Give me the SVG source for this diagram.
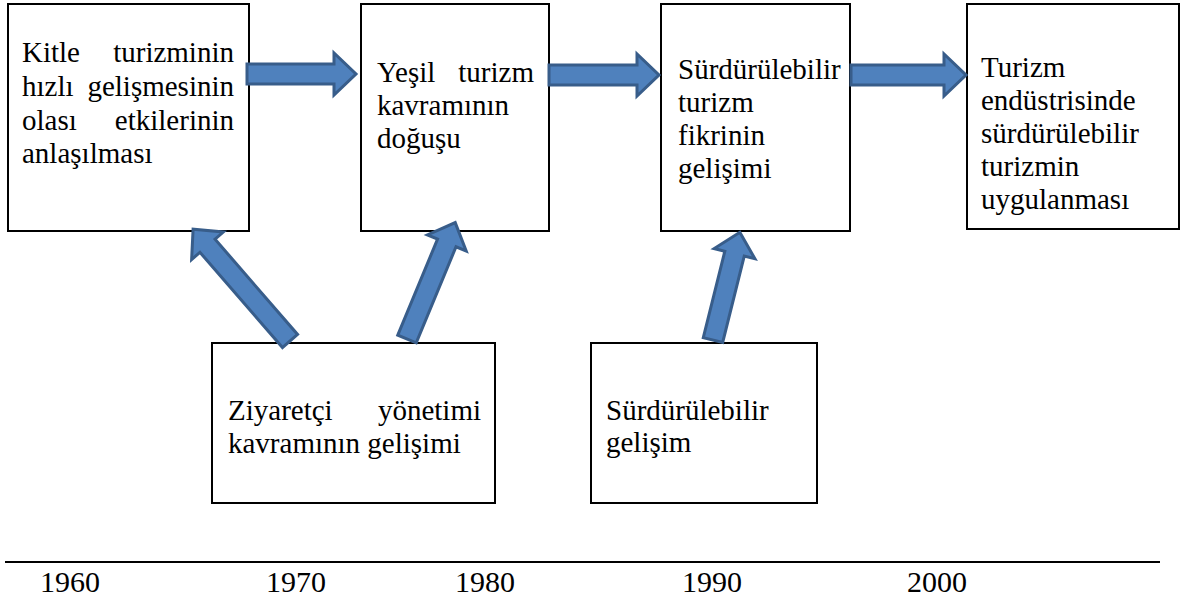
<svg xmlns="http://www.w3.org/2000/svg" width="1182" height="601" viewBox="0 0 1182 601">
<style>
.box{fill:#fff;stroke:#000;stroke-width:2}
.e{text-anchor:end}
.arr{fill:#4F81BD;stroke:#385D8A;stroke-width:3;stroke-linejoin:miter}
</style>
<rect width="1182" height="601" fill="#fff"/>
<g font-family="Liberation Serif, Tinos, Times New Roman, DejaVu Serif, serif" font-size="29" fill="#000">
<g id="n1">
<rect class="box" x="8" y="4" width="241" height="227"/>
<text x="22" y="62">Kitle</text><text class="e" x="234" y="62">turizminin</text>
<text x="22" y="96">hızlı</text><text class="e" x="234" y="96">gelişmesinin</text>
<text x="22" y="130">olası</text><text class="e" x="234" y="130">etkilerinin</text>
<text x="22" y="163">anlaşılması</text>
</g>
<g id="n2">
<rect class="box" x="361" y="4" width="188" height="227"/>
<text x="377" y="82">Yeşil</text><text class="e" x="534" y="82">turizm</text>
<text x="377" y="115">kavramının</text>
<text x="377" y="148">doğuşu</text>
</g>
<g id="n3">
<rect class="box" x="661" y="4" width="189" height="227"/>
<text x="678" y="79">Sürdürülebilir</text>
<text x="678" y="112">turizm</text>
<text x="678" y="145">fikrinin</text>
<text x="678" y="178">gelişimi</text>
</g>
<g id="n4">
<rect class="box" x="967" y="4" width="212" height="225"/>
<text x="981" y="77">Turizm</text>
<text x="981" y="110">endüstrisinde</text>
<text x="981" y="143">sürdürülebilir</text>
<text x="981" y="176">turizmin</text>
<text x="981" y="209">uygulanması</text>
</g>
<g id="n5">
<rect class="box" x="212" y="343" width="283" height="160"/>
<text x="228" y="420">Ziyaretçi</text><text class="e" x="481" y="420">yönetimi</text>
<text x="228" y="453">kavramının gelişimi</text>
</g>
<g id="n6">
<rect class="box" x="591" y="343" width="226" height="160"/>
<text x="606" y="420">Sürdürülebilir</text>
<text x="606" y="452">gelişim</text>
</g>
</g>
<g id="connectors">
<path class="arr" transform="translate(247,74)" d="M0,-10 L87,-10 L87,-21 L109,0 L87,21 L87,10 L0,10 Z"/>
<path class="arr" transform="translate(549,75)" d="M0,-10 L88,-10 L88,-21 L110,0 L88,21 L88,10 L0,10 Z"/>
<path class="arr" transform="translate(851,75)" d="M0,-10 L93,-10 L93,-21 L115,0 L93,21 L93,10 L0,10 Z"/>
<path class="arr" transform="translate(290,341) rotate(229.1)" d="M0,-10 L126,-10 L126,-21 L148,0 L126,21 L126,10 L0,10 Z"/>
<path class="arr" transform="translate(407,339) rotate(-67.5)" d="M0,-10 L104,-10 L104,-21 L126,0 L104,21 L104,10 L0,10 Z"/>
<path class="arr" transform="translate(713,340) rotate(-76)" d="M0,-10 L89,-10 L89,-21 L111,0 L89,21 L89,10 L0,10 Z"/>
</g>
<g id="timeline" font-family="Liberation Serif, Tinos, Times New Roman, DejaVu Serif, serif" font-size="30" fill="#000">
<line x1="5" y1="562" x2="1160" y2="562" stroke="#000" stroke-width="2"/>
<text x="40" y="592">1960</text>
<text x="266" y="592">1970</text>
<text x="455" y="592">1980</text>
<text x="682" y="592">1990</text>
<text x="907" y="592">2000</text>
</g>
</svg>
